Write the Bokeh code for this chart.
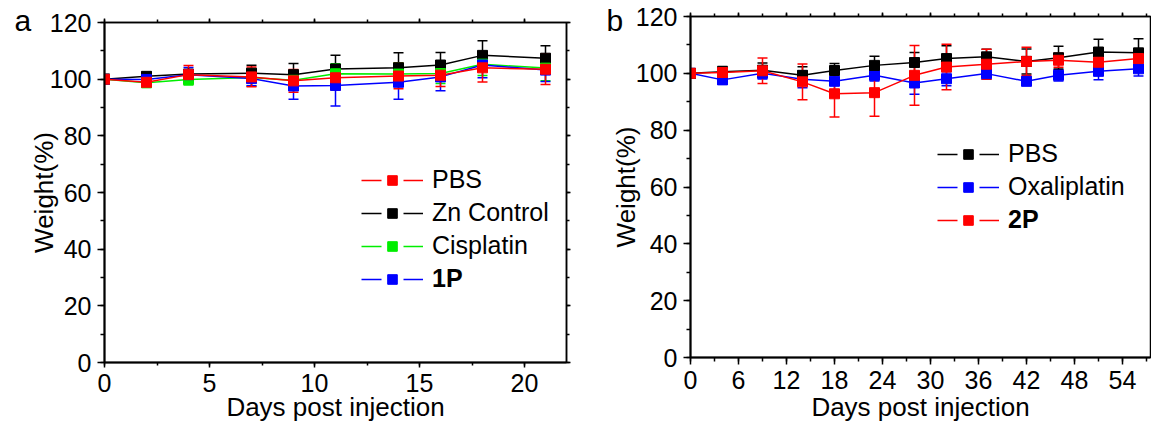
from bokeh.plotting import figure
from bokeh.models import (Range1d, SingleIntervalTicker, LinearAxis, ColumnDataSource,
                          Whisker, TeeHead, Legend, LegendItem, Label,
                          CustomLabelingPolicy)
from bokeh.layouts import row, column
from bokeh.embed import file_html
from bokeh.resources import INLINE

FONT = "Liberation Sans"
NAN = float("nan")

# ---------------- data: panel a ----------------
days_a = [0, 2, 4, 7, 9, 11, 14, 16, 18, 21]
pbs_a = [100, 98.9, 101.6, 100.8, 99.4, 100.5, 101.1, 101.4, 104.0, 103.5]
pbs_a_err = [0, 1.0, 3.2, 3.5, 4.0, 4.3, 4.5, 4.0, 5.0, 5.4]
zn_a = [100, 101.0, 101.8, 102.1, 101.6, 103.6, 104.0, 105.0, 108.4, 107.4]
zn_a_err = [0, 1.4, 1.5, 2.8, 3.9, 4.8, 5.3, 4.4, 5.2, 4.4]
cis_a = [100, 98.7, 99.9, 100.6, 99.6, 101.9, 101.8, 102.0, 105.3, 103.9]
cis_a_err = [0, 1.0, 2.0, 3.0, 3.5, 3.5, 4.0, 3.5, 4.0, 4.5]
p1_a = [100, 99.9, 101.6, 100.2, 97.6, 97.8, 98.9, 100.8, 105.0, 103.2]
p1_a_err = [0, 1.5, 2.5, 2.5, 4.7, 7.3, 6.0, 4.9, 4.5, 4.0]

# ---------------- data: panel b ----------------
days_b = [0, 4, 9, 14, 18, 23, 28, 32, 37, 42, 46, 51, 56]
pbs_b = [100, 100.6, 101.1, 99.3, 101.0, 102.8, 103.8, 105.2, 105.8, 104.2, 105.5, 107.5, 107.2]
pbs_b_err = [0, 1.8, 2.5, 3.0, 2.5, 3.2, 3.5, 4.5, 2.7, 4.4, 4.0, 4.5, 5.0]
oxa_b = [100, 97.7, 100.0, 97.9, 97.2, 99.3, 96.6, 98.1, 99.9, 97.2, 99.3, 100.7, 101.6]
oxa_b_err = [0, 1.5, 2.0, 3.0, 3.0, 2.0, 4.0, 2.5, 2.0, 1.5, 2.0, 3.0, 2.5]
p2_b = [100, 100.3, 100.9, 97.0, 92.8, 93.2, 99.3, 102.2, 103.2, 104.2, 104.6, 103.9, 105.2]
p2_b_err = [0, 1.5, 4.5, 6.3, 8.2, 8.3, 10.5, 8.0, 5.3, 5.0, 2.5, 3.0, 3.0]

y_ticks_interval = 20
x_label = "Days post injection"
y_label = "Weight(%)"

NO_LABELS = CustomLabelingPolicy(code="""
try { for (const i of [...indices]) indices.unset(i) } catch (e) {}
return indices
""")


def style_axis(ax, tick_out, minor_out, label_standoff, axis_standoff):
    ax.axis_line_width = 2
    ax.axis_line_color = "black"
    ax.major_tick_line_width = 1.5
    ax.minor_tick_line_width = 1.5
    ax.major_tick_out = tick_out
    ax.major_tick_in = 0
    ax.minor_tick_out = minor_out
    ax.minor_tick_in = 0
    ax.major_label_text_font = FONT
    ax.major_label_text_font_size = "25px"
    ax.major_label_text_color = "black"
    ax.major_label_standoff = label_standoff
    ax.axis_label_text_font = FONT
    ax.axis_label_text_font_size = "26px"
    ax.axis_label_text_font_style = "normal"
    ax.axis_label_text_color = "black"
    ax.axis_label_standoff = axis_standoff


def mirror_axis(ticker):
    ax = LinearAxis(ticker=ticker, major_label_policy=NO_LABELS)
    style_axis(ax, 4, 3, 0, 0)
    ax.major_label_text_font_size = "0px"
    ax.axis_line_width = 1.5
    return ax


def make_fig(width, height, bl, br, bt, bb, xmax, xint, xtick_out, xminor_out,
             x_std, x_lab_std, y_lab_std, right_axis):
    p = figure(width=width, height=height, output_backend="svg", toolbar_location=None,
               x_range=Range1d(0, xmax), y_range=Range1d(0, 120),
               min_border_left=bl, min_border_right=br, min_border_top=bt,
               min_border_bottom=bb)
    p.xgrid.visible = False
    p.ygrid.visible = False
    p.outline_line_color = "black"
    p.outline_line_width = 1.5
    p.background_fill_color = "white"
    p.border_fill_color = "white"
    p.xaxis.ticker = SingleIntervalTicker(interval=xint, num_minor_ticks=2)
    p.yaxis.ticker = SingleIntervalTicker(interval=y_ticks_interval, num_minor_ticks=2)
    p.xaxis.axis_label = x_label
    p.yaxis.axis_label = y_label
    style_axis(p.xaxis[0], xtick_out, xminor_out, x_std, x_lab_std)
    style_axis(p.yaxis[0], 7, 4, 6, y_lab_std)
    p.add_layout(mirror_axis(SingleIntervalTicker(interval=xint, num_minor_ticks=2)), "above")
    if right_axis:
        p.add_layout(mirror_axis(SingleIntervalTicker(interval=y_ticks_interval,
                                                      num_minor_ticks=2)), "right")
    return p


def add_series(p, x, y, err, color):
    src = ColumnDataSource(dict(x=x, y=y,
                                upper=[a + b for a, b in zip(y, err)],
                                lower=[a - b for a, b in zip(y, err)]))
    p.line("x", "y", source=src, line_color=color, line_width=1.5)
    w = Whisker(source=src, base="x", upper="upper", lower="lower",
                line_color=color, line_width=1.5,
                upper_head=TeeHead(size=10, line_color=color, line_width=1.5),
                lower_head=TeeHead(size=10, line_color=color, line_width=1.5))
    p.add_layout(w)
    p.scatter("x", "y", source=src, marker="square", size=10,
              fill_color=color, line_color=color)


def legend_item(p, label, color):
    lr = p.line([NAN], [NAN], line_color=color, line_width=1.5, line_dash="20 22")
    sr = p.scatter([NAN], [NAN], marker="square", size=9, fill_color=color, line_color=color)
    return LegendItem(label=label, renderers=[lr, sr])


def make_legend(items, loc, bold):
    return Legend(items=items, location=loc, orientation="vertical",
                  glyph_width=62, glyph_height=24, label_height=29, spacing=4,
                  padding=0, margin=0, border_line_alpha=0, background_fill_alpha=0,
                  label_standoff=9, label_text_font=FONT, label_text_font_size="25px",
                  label_text_color="black",
                  label_text_font_style="bold" if bold else "normal")


# ---------------- panel a ----------------
pa = make_fig(580, 429, 104, 14, 22, 67, 22, 5, 5, 3, 6, -3, -12, True)
add_series(pa, days_a, zn_a, zn_a_err, "black")
add_series(pa, days_a, cis_a, cis_a_err, "#00ee00")
add_series(pa, days_a, p1_a, p1_a_err, "blue")
add_series(pa, days_a, pbs_a, pbs_a_err, "red")
pa.add_layout(make_legend([legend_item(pa, "PBS", "red"),
                           legend_item(pa, "Zn Control", "black"),
                           legend_item(pa, "Cisplatin", "#00ee00")], (257, 102), False))
pa.add_layout(make_legend([legend_item(pa, "1P", "blue")], (257, 69), True))
pa.add_layout(Label(x=6, y=342, x_units="screen", y_units="screen", text="a",
                    text_baseline="alphabetic",
                    text_font=FONT, text_font_size="30px", text_color="black"), "left")

# ---------------- panel b ----------------
pb = make_fig(571, 429, 110, 1, 16, 72, 57.5, 6, 7, 4, 6, 0, -8, False)
add_series(pb, days_b, oxa_b, oxa_b_err, "blue")
add_series(pb, days_b, pbs_b, pbs_b_err, "black")
add_series(pb, days_b, p2_b, p2_b_err, "red")
pb.add_layout(make_legend([legend_item(pb, "PBS", "black"),
                           legend_item(pb, "Oxaliplatin", "blue")], (247, 156), False))
pb.add_layout(make_legend([legend_item(pb, "2P", "red")], (247, 123), True))
pb.add_layout(Label(x=16, y=337, x_units="screen", y_units="screen", text="b",
                    text_baseline="alphabetic",
                    text_font=FONT, text_font_size="30px", text_color="black"), "left")

layout = row(column(pa), pb)
open("out.html", "w").write(file_html(layout, INLINE))
